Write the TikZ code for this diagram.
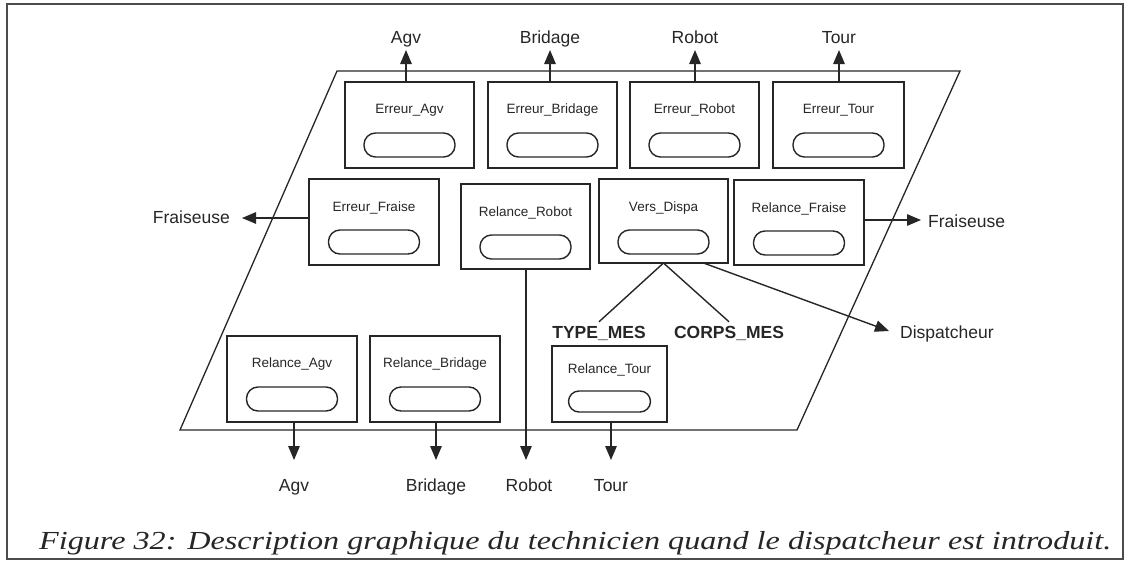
\documentclass[tikz,border=0pt]{standalone}
\usepackage{fontspec}
\setmainfont{Liberation Serif}
\setsansfont{Liberation Sans}
\usetikzlibrary{arrows.meta,calc}
\tikzset{
 frame/.style={draw=black!70, line width=1.8pt},
 plane/.style={draw=black!85, line width=1.3pt},
 box/.style={draw=black!85, line width=1.4pt, inner sep=0pt, outer sep=0pt},
 pill/.style={draw=black!85, line width=1.4pt, rounded corners=11.5pt, minimum width=91pt, minimum height=24pt, inner sep=0pt},
 ttl/.style={font=\sffamily\fontsize{13.5}{15}\selectfont, anchor=base, inner sep=0pt, text=black!85},
 lbl/.style={font=\sffamily\fontsize{17.5}{20}\selectfont, anchor=base, inner sep=0pt, text=black!85},
 blbl/.style={font=\sffamily\bfseries\fontsize{17.5}{20}\selectfont, anchor=base, inner sep=0pt, outer sep=4pt, text=black!85},
 conn/.style={draw=black!85, line width=1.4pt},
 arr/.style={conn, -{Triangle[width=11.5pt,length=14pt]}},
}
\newcommand\mkbox[8]{%
 \node[box, minimum width=#4pt, minimum height=#5pt] (#1) at (#2,#3) {};
 \node[ttl] (#1t) at ($(#1.north)+(0,#7)$) {#6};
 \node[pill] (#1p) at ($(#1.north)+(0,#8)$) {};
}
\begin{document}
\begin{tikzpicture}[x=1pt,y=-1pt]
\useasboundingbox (0,0) rectangle (1131,562);
\draw[frame] (7,4) rectangle (1123,559);
\draw[plane] (180,430) -- (797,430) -- (960,71) -- (337,71) -- cycle;
% top row
\mkbox{EA}{409.5}{125}{129}{86}{Erreur\_Agv}{31}{63}
\mkbox{EB}{552.5}{125}{129}{86}{Erreur\_Bridage}{31}{63}
\mkbox{ER}{694.5}{125}{129}{86}{Erreur\_Robot}{31}{63}
\mkbox{ET}{838.5}{125}{131}{86}{Erreur\_Tour}{31}{63}
% middle row
\mkbox{EF}{374}{222}{130}{86}{Erreur\_Fraise}{32}{63}
\mkbox{RR}{525.5}{226.5}{129}{85}{Relance\_Robot}{32}{63}
\mkbox{VD}{663.5}{221}{129}{84}{Vers\_Dispa}{32}{63}
\mkbox{RF}{799}{222.5}{130}{85}{Relance\_Fraise}{32}{63}
% bottom row
\mkbox{RA}{292}{379}{130}{86}{Relance\_Agv}{31}{63}
\mkbox{RB}{435}{379}{130}{86}{Relance\_Bridage}{31}{63}
\node[box, minimum width=115pt, minimum height=76pt] (RT) at (609.5,384) {};
\node[ttl] (RTt) at ($(RT.north)+(0,27)$) {Relance\_Tour};
\node[draw=black!85, line width=1.4pt, rounded corners=10.5pt, minimum width=82pt, minimum height=21pt, inner sep=0pt] (RTp) at ($(RT.north)+(0,55.5)$) {};
% top labels and arrows
\node[lbl] (lA) at (406,43) {Agv};
\node[lbl] (lB) at (550,43) {Bridage};
\node[lbl] (lR) at (695,43) {Robot};
\node[lbl] (lT) at (839,43) {Tour};
\draw[arr] (EA.north -| lA) -- ($(lA.base)+(0,7)$);
\draw[arr] (EB.north -| lB) -- ($(lB.base)+(0,7)$);
\draw[arr] (ER.north -| lR) -- ($(lR.base)+(0,7)$);
\draw[arr] (ET.north -| lT) -- ($(lT.base)+(0,7)$);
% bottom labels and arrows
\node[lbl] (bA) at (294,491) {Agv};
\node[lbl] (bB) at (436,491) {Bridage};
\node[lbl] (bR) at (529,491) {Robot};
\node[lbl] (bT) at (611,491) {Tour};
\coordinate (rTip) at (526,460);
\draw[arr] (RA.south -| bA) -- ($(bA.base)+(0,-31)$);
\draw[arr] (RB.south -| bB) -- ($(bB.base)+(0,-31)$);
\draw[arr] (RR.south -| rTip) -- (rTip);
\draw[arr] (RT.south -| bT) -- ($(bT.base)+(0,-31)$);
% Fraiseuse
\node[lbl, anchor=base east] (fL) at (230,223) {Fraiseuse};
\node[lbl, anchor=base west] (fR) at (928,227) {Fraiseuse};
\coordinate (fLtip) at (242,218);
\coordinate (fRtip) at (921,220);
\draw[arr] (EF.west |- fLtip) -- (fLtip);
\draw[arr] (RF.east |- fRtip) -- (fRtip);
% Vers_Dispa
\node[blbl] (tm) at (599,338) {TYPE\_MES};
\node[blbl] (cm) at (729,338) {CORPS\_MES};
\node[lbl, anchor=base west] (dp) at (900,338) {Dispatcheur};
\coordinate (dTip) at (889,331);
\draw[conn] (VD.south) -- (tm.north);
\draw[conn] (VD.south) -- (cm.north);
\draw[arr] ($(VD.south)+(40,0)$) -- (dTip);
% caption
\node[anchor=base west, inner sep=0pt, text=black!85] (cap) at (39,549) {\resizebox{1072pt}{\height}{\fontsize{26}{30}\selectfont\itshape Figure 32: Description graphique du technicien quand le dispatcheur est introduit.}};
\end{tikzpicture}
\end{document}
